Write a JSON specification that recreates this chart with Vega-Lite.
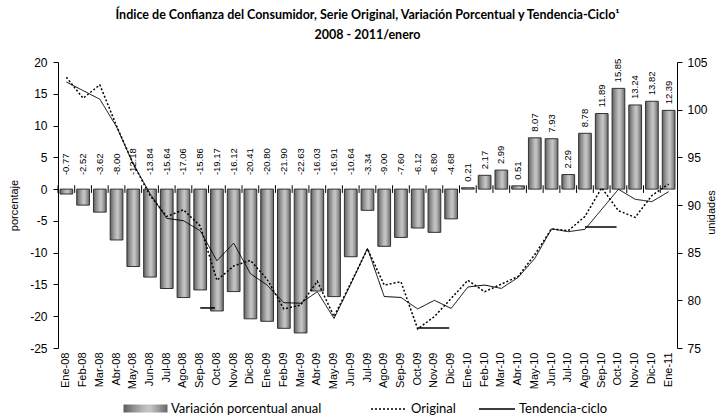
{
  "$schema": "https://vega.github.io/schema/vega-lite/v6.json",
  "width": 619,
  "height": 286,
  "autosize": {"type": "none"},
  "padding": {"left": 58, "top": 62, "right": 39, "bottom": 71},
  "title": {
    "text": ["Índice de Confianza del Consumidor, Serie Original, Variación Porcentual y Tendencia-Ciclo¹", "2008 - 2011/enero"],
    "anchor": "middle",
    "font": "Lato",
    "fontSize": 12.5,
    "fontWeight": "bold",
    "lineHeight": 20,
    "offset": 15,
    "color": "black"
  },
  "datasets": {
    "main": [
      {"mes": "Ene-08", "var": -0.77, "orig": 103.4, "tend": 102.9},
      {"mes": "Feb-08", "var": -2.52, "orig": 101.2, "tend": 102.0},
      {"mes": "Mar-08", "var": -3.62, "orig": 102.6, "tend": 101.1},
      {"mes": "Abr-08", "var": -8.00, "orig": 98.3, "tend": 98.2},
      {"mes": "May-08", "var": -12.18, "orig": 94.3, "tend": 94.3},
      {"mes": "Jun-08", "var": -13.84, "orig": 91.0, "tend": 91.2},
      {"mes": "Jul-08", "var": -15.64, "orig": 88.8, "tend": 88.6},
      {"mes": "Ago-08", "var": -17.06, "orig": 89.5, "tend": 88.35},
      {"mes": "Sep-08", "var": -15.86, "orig": 87.8, "tend": 87.3},
      {"mes": "Oct-08", "var": -19.17, "orig": 82.1, "tend": 84.15},
      {"mes": "Nov-08", "var": -16.12, "orig": 83.6, "tend": 86.0},
      {"mes": "Dic-08", "var": -20.41, "orig": 84.2, "tend": 82.8},
      {"mes": "Ene-09", "var": -20.80, "orig": 82.2, "tend": 81.6},
      {"mes": "Feb-09", "var": -21.90, "orig": 79.1, "tend": 79.75},
      {"mes": "Mar-09", "var": -22.63, "orig": 79.5, "tend": 79.7},
      {"mes": "Abr-09", "var": -16.03, "orig": 82.0, "tend": 80.9},
      {"mes": "May-09", "var": -16.91, "orig": 78.3, "tend": 78.1},
      {"mes": "Jun-09", "var": -10.64, "orig": 81.8, "tend": 81.7},
      {"mes": "Jul-09", "var": -3.34, "orig": 85.4, "tend": 85.45},
      {"mes": "Ago-09", "var": -9.00, "orig": 81.6, "tend": 80.4},
      {"mes": "Sep-09", "var": -7.60, "orig": 81.95, "tend": 80.3},
      {"mes": "Oct-09", "var": -6.12, "orig": 77.0, "tend": 79.1},
      {"mes": "Nov-09", "var": -6.80, "orig": 78.3, "tend": 80.0},
      {"mes": "Dic-09", "var": -4.68, "orig": 80.2, "tend": 79.15},
      {"mes": "Ene-10", "var": 0.21, "orig": 82.1, "tend": 81.4},
      {"mes": "Feb-10", "var": 2.17, "orig": 80.9, "tend": 81.6},
      {"mes": "Mar-10", "var": 2.99, "orig": 81.7, "tend": 81.25},
      {"mes": "Abr-10", "var": 0.51, "orig": 82.5, "tend": 82.4},
      {"mes": "May-10", "var": 8.07, "orig": 84.8, "tend": 84.4},
      {"mes": "Jun-10", "var": 7.93, "orig": 87.5, "tend": 87.5},
      {"mes": "Jul-10", "var": 2.29, "orig": 87.3, "tend": 87.2},
      {"mes": "Ago-10", "var": 8.78, "orig": 88.8, "tend": 87.45},
      {"mes": "Sep-10", "var": 11.89, "orig": 91.8, "tend": 89.55},
      {"mes": "Oct-10", "var": 15.85, "orig": 89.4, "tend": 91.65},
      {"mes": "Nov-10", "var": 13.24, "orig": 88.7, "tend": 90.6},
      {"mes": "Dic-10", "var": 13.82, "orig": 91.0, "tend": 90.35},
      {"mes": "Ene-11", "var": 12.39, "orig": 92.2, "tend": 91.4}
    ],
    "segs": [
      {"mes": "Sep-08", "mes2": "Oct-08", "v": 79.2},
      {"mes": "Oct-09", "mes2": "Dic-09", "v": 77.1},
      {"mes": "Ago-10", "mes2": "Oct-10", "v": 87.7}
    ]
  },
  "data": {"name": "main"},
  "encoding": {
    "x": {
      "field": "mes",
      "type": "ordinal",
      "title": null,
      "scale": {
        "domain": ["Ene-08","Feb-08","Mar-08","Abr-08","May-08","Jun-08","Jul-08","Ago-08","Sep-08","Oct-08","Nov-08","Dic-08","Ene-09","Feb-09","Mar-09","Abr-09","May-09","Jun-09","Jul-09","Ago-09","Sep-09","Oct-09","Nov-09","Dic-09","Ene-10","Feb-10","Mar-10","Abr-10","May-10","Jun-10","Jul-10","Ago-10","Sep-10","Oct-10","Nov-10","Dic-10","Ene-11"],
        "paddingInner": 0.24,
        "paddingOuter": 0.12
      },
      "axis": {
        "labelAngle": 270,
        "labelAlign": "right",
        "labelBaseline": "middle",
        "labelPadding": 4,
        "labelFontSize": 11,
        "ticks": false,
        "domain": false
      }
    }
  },
  "layer": [
    {
      "layer": [
        {
          "mark": {
            "type": "bar",
            "stroke": "#333333",
            "strokeWidth": 1,
            "fill": {
              "gradient": "linear", "x1": 0, "y1": 0, "x2": 1, "y2": 0,
              "stops": [
                {"offset": 0, "color": "#5c5c5c"},
                {"offset": 0.2, "color": "#8a8a8a"},
                {"offset": 0.45, "color": "#b8b8b8"},
                {"offset": 0.6, "color": "#c6c6c6"},
                {"offset": 0.8, "color": "#9a9a9a"},
                {"offset": 1, "color": "#666666"}
              ]
            }
          },
          "encoding": {
            "y": {
              "field": "var",
              "type": "quantitative",
              "title": "porcentaje",
              "scale": {"domain": [-25, 20], "nice": false, "zero": false},
              "axis": {"values": [-25, -20, -15, -10, -5, 0, 5, 10, 15, 20], "format": "d", "labelOverlap": false, "labelSeparation": 0, "tickSize": 5, "labelPadding": 6, "labelFontSize": 12, "titlePadding": 10}
            },
            "opacity": {
              "datum": "Variación porcentual anual",
              "type": "nominal",
              "scale": {"range": [1]},
              "legend": {
                "orient": "none",
                "legendX": 65,
                "legendY": 324,
                "direction": "horizontal",
                "title": null,
                "symbolType": "M-1,-0.18H1V0.18H-1Z",
                "symbolSize": 1936,
                "symbolFillColor": "#a0a0a0",
                "symbolStrokeColor": "#333333",
                "symbolStrokeWidth": 1,
                "symbolOpacity": 1,
                "labelFontSize": 13,
                "labelFont": "Lato",
                "labelColor": "black",
                "labelOffset": 3
              }
            }
          }
        },
        {
          "mark": {"type": "rule", "color": "black", "strokeWidth": 1},
          "encoding": {
            "x": {"field": "mes", "type": "ordinal", "bandPosition": -0.16},
            "y": {"datum": -0.6, "type": "quantitative", "title": "porcentaje",
              "axis": {"values": [-25, -20, -15, -10, -5, 0, 5, 10, 15, 20], "format": "d", "labelOverlap": false, "labelSeparation": 0, "tickSize": 5, "labelPadding": 6, "labelFontSize": 12, "titlePadding": 10}},
            "y2": {"datum": 0.6}
          }
        },
        {
          "mark": {"type": "rule", "color": "black", "strokeWidth": 1},
          "encoding": {"y": {"datum": 0, "type": "quantitative", "title": "porcentaje",
            "axis": {"values": [-25, -20, -15, -10, -5, 0, 5, 10, 15, 20], "format": "d", "labelOverlap": false, "labelSeparation": 0, "tickSize": 5, "labelPadding": 6, "labelFontSize": 12, "titlePadding": 10}}}
        },
        {
          "transform": [{"filter": "datum.var < 0"}],
          "mark": {"type": "text", "angle": 270, "align": "left", "baseline": "middle", "dx": 14, "fontSize": 9.5, "font": "Liberation Sans", "color": "black"},
          "encoding": {
            "y": {"datum": 0, "type": "quantitative", "title": "porcentaje",
              "axis": {"values": [-25, -20, -15, -10, -5, 0, 5, 10, 15, 20], "format": "d", "labelOverlap": false, "labelSeparation": 0, "tickSize": 5, "labelPadding": 6, "labelFontSize": 12, "titlePadding": 10}},
            "text": {"field": "var", "type": "quantitative", "format": ".2f"}
          }
        },
        {
          "transform": [{"filter": "datum.var >= 0"}],
          "mark": {"type": "text", "angle": 270, "align": "left", "baseline": "middle", "dx": 6, "fontSize": 9.5, "font": "Liberation Sans", "color": "black"},
          "encoding": {
            "y": {"field": "var", "type": "quantitative", "title": "porcentaje",
              "axis": {"values": [-25, -20, -15, -10, -5, 0, 5, 10, 15, 20], "format": "d", "labelOverlap": false, "labelSeparation": 0, "tickSize": 5, "labelPadding": 6, "labelFontSize": 12, "titlePadding": 10}},
            "text": {"field": "var", "type": "quantitative", "format": ".2f"}
          }
        }
      ]
    },
    {
      "layer": [
        {
          "mark": {"type": "line", "color": "black", "strokeWidth": 1.5},
          "encoding": {
            "y": {
              "field": "orig",
              "type": "quantitative",
              "title": "unidades",
              "scale": {"domain": [75, 105], "nice": false, "zero": false},
              "axis": {"orient": "right", "values": [75, 80, 85, 90, 95, 100, 105], "labelOverlap": false, "tickSize": 5, "labelPadding": 5, "labelFontSize": 12, "titleAngle": 270, "titleX": 34, "titleY": 150, "titleAlign": "center", "titleBaseline": "middle"}
            },
            "strokeDash": {
              "datum": "Original",
              "type": "nominal",
              "scale": {"domain": ["Original", "Tendencia-ciclo"], "range": [[2, 2], [1, 0]]},
              "legend": {
                "orient": "none",
                "legendX": 312,
                "legendY": 328,
                "direction": "horizontal",
                "title": null,
                "symbolType": "stroke",
                "symbolSize": 1296,
                "symbolStrokeColor": "black",
                "symbolStrokeWidth": 1.3,
                "symbolOpacity": 1,
                "labelFontSize": 13,
                "labelFont": "Lato",
                "labelColor": "black",
                "labelOffset": 3,
                "columnPadding": 20
              }
            }
          }
        },
        {
          "mark": {"type": "line", "color": "black", "strokeWidth": 1},
          "encoding": {
            "y": {"field": "tend", "type": "quantitative", "title": "unidades",
              "axis": {"orient": "right", "values": [75, 80, 85, 90, 95, 100, 105], "labelOverlap": false, "tickSize": 5, "labelPadding": 5, "labelFontSize": 12, "titleAngle": 270, "titleX": 34, "titleY": 150, "titleAlign": "center", "titleBaseline": "middle"}},
            "strokeDash": {"datum": "Tendencia-ciclo", "type": "nominal"}
          }
        },
        {
          "data": {"name": "segs"},
          "mark": {"type": "rule", "color": "black", "strokeWidth": 1.5},
          "encoding": {
            "x2": {"field": "mes2", "bandPosition": 0.35},
            "y": {"field": "v", "type": "quantitative", "title": "unidades",
              "axis": {"orient": "right", "values": [75, 80, 85, 90, 95, 100, 105], "labelOverlap": false, "tickSize": 5, "labelPadding": 5, "labelFontSize": 12, "titleAngle": 270, "titleX": 34, "titleY": 150, "titleAlign": "center", "titleBaseline": "middle"}}
          }
        }
      ]
    }
  ],
  "resolve": {"scale": {"y": "independent"}},
  "config": {
    "view": {"stroke": null},
    "font": "Liberation Sans",
    "locale": {"number": {"decimal": ".", "thousands": ",", "grouping": [3], "currency": ["$", ""], "minus": "-"}},
    "axis": {
      "grid": false,
      "labelColor": "black",
      "titleColor": "black",
      "domainColor": "black",
      "tickColor": "black",
      "labelFontSize": 11,
      "titleFontSize": 11,
      "titleFontWeight": "normal",
      "labelFont": "Liberation Sans",
      "titleFont": "Liberation Sans"
    }
  }
}
